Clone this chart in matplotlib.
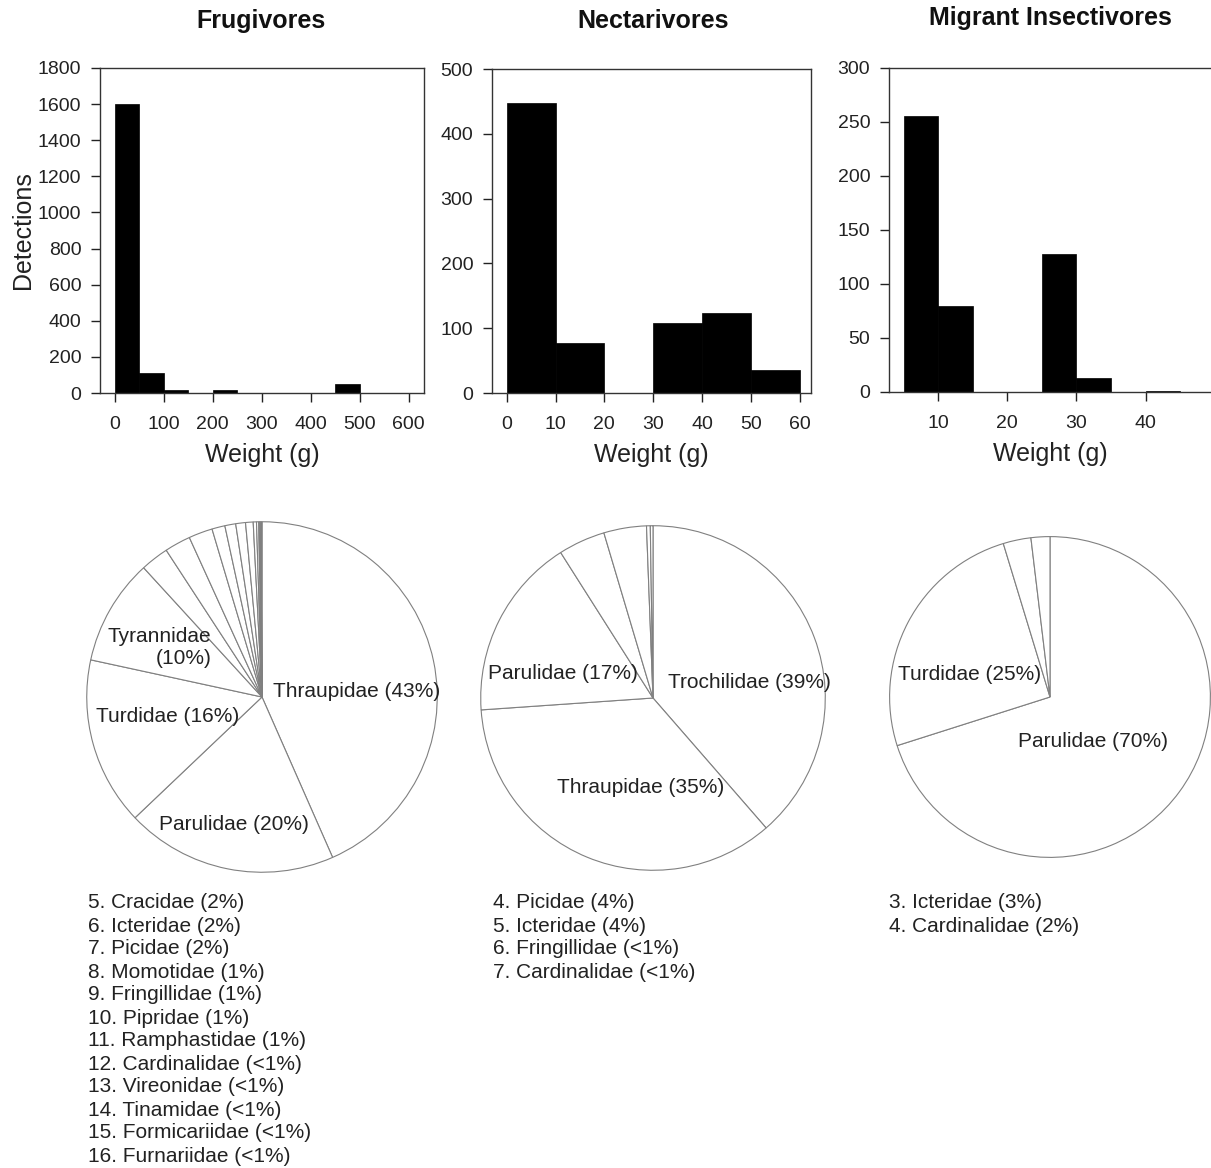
import numpy as np
import matplotlib
matplotlib.use("Agg")
import matplotlib.pyplot as plt

plt.rcParams["font.family"] = ["Liberation Sans", "DejaVu Sans"]

# ---- histogram data (detections per weight bin) ----
frug_edges = [0, 50, 100, 150, 200, 250, 300, 350, 400, 450, 500, 550, 600]
frug_counts = [1600, 110, 15, 0, 18, 0, 0, 0, 0, 52, 0, 0]

nect_edges = [0, 10, 20, 30, 40, 50, 60]
nect_counts = [448, 77, 0, 108, 123, 35]

migr_edges = [5, 10, 15, 20, 25, 30, 35, 40, 45]
migr_counts = [256, 80, 0, 0, 128, 13, 0, 1]

# ---- pie data (share of detections, %) ----
frug_families = ["Thraupidae", "Parulidae", "Turdidae", "Tyrannidae", "Cracidae",
                 "Icteridae", "Picidae", "Momotidae", "Fringillidae", "Pipridae",
                 "Ramphastidae", "Cardinalidae", "Vireonidae", "Tinamidae",
                 "Formicariidae", "Furnariidae"]
frug_share = [43.4, 19.5, 15.5, 9.8, 2.6, 2.4, 2.2, 1.2, 1.0, 0.9, 0.7,
              0.3, 0.2, 0.1, 0.1, 0.1]
frug_pct = ["43%", "20%", "16%", "10%", "2%", "2%", "2%", "1%", "1%", "1%", "1%",
            "<1%", "<1%", "<1%", "<1%", "<1%"]

nect_families = ["Trochilidae", "Thraupidae", "Parulidae", "Picidae", "Icteridae",
                 "Fringillidae", "Cardinalidae"]
nect_share = [38.6, 35.3, 17.1, 4.4, 4.0, 0.35, 0.25]
nect_pct = ["39%", "35%", "17%", "4%", "4%", "<1%", "<1%"]

migr_families = ["Parulidae", "Turdidae", "Icteridae", "Cardinalidae"]
migr_share = [70.1, 25.2, 2.8, 1.9]
migr_pct = ["70%", "25%", "3%", "2%"]

W, H = 1211, 1168
fig = plt.figure(figsize=(W / 100, H / 100), dpi=100)
fig.patch.set_facecolor("white")


def box(l, t, r, b):
    return [l / W, 1 - b / H, (r - l) / W, (b - t) / H]


def hist_panel(rect, edges, counts, ylim, yticks, xlim, xticks, ylabel=None):
    ax = fig.add_axes(box(*rect))
    widths = np.diff(edges)
    ax.bar(edges[:-1], counts, width=widths, align="edge", color="black",
           edgecolor="black", linewidth=0.5)
    ax.set_xlim(*xlim)
    ax.set_ylim(*ylim)
    ax.set_xticks(xticks)
    ax.set_yticks(yticks)
    ax.tick_params(axis="both", direction="out", length=6.5, width=1.0,
                   labelsize=14, colors="#222222")
    ax.tick_params(axis="x", pad=10)
    ax.tick_params(axis="y", pad=7)
    for s in ax.spines.values():
        s.set_linewidth(1.0)
        s.set_color("#333333")
    ax.set_xlabel("Weight (g)", fontsize=18, color="#222222", labelpad=7)
    if ylabel:
        ax.set_ylabel(ylabel, fontsize=18, color="#222222", labelpad=2)
    return ax


hist_panel((100, 68, 424, 393), frug_edges, frug_counts, (0, 1800),
           range(0, 1801, 200), (-30, 631), range(0, 601, 100), "Detections")
hist_panel((492, 69, 811, 393), nect_edges, nect_counts, (0, 500),
           range(0, 501, 100), (-3, 62.3), range(0, 61, 10))
hist_panel((889, 68, 1212, 392), migr_edges, migr_counts, (0, 300),
           range(0, 301, 50), (2.9, 49.6), [10, 20, 30, 40])

fig.text(261 / W, 1 - 21 / H, "Frugivores", fontsize=18, fontweight="bold",
         ha="center", va="center", color="#111111")
fig.text(653 / W, 1 - 21 / H, "Nectarivores", fontsize=18, fontweight="bold",
         ha="center", va="center", color="#111111")
fig.text(1050 / W, 1 - 18 / H, "Migrant Insectivores", fontsize=18,
         fontweight="bold", ha="center", va="center", color="#111111")


def pie_panel(cx, cy, r, shares, labels, label_pos, families, pct, n_on_pie,
              list_x, list_y):
    ax = fig.add_axes(box(cx - r, cy - r, cx + r, cy + r))
    ax.pie(shares, startangle=90, counterclock=False, radius=1,
           colors=["white"] * len(shares),
           wedgeprops=dict(edgecolor="#808080", linewidth=0.8))
    ax.set_xlim(-1.01, 1.01)
    ax.set_ylim(-1.01, 1.01)
    ax.axis("off")
    for text, (x, y, ha) in zip(labels, label_pos):
        ax.text(x, y, text, fontsize=15, ha=ha, va="center",
                multialignment="right", color="#222222")
    for i in range(n_on_pie, len(families)):
        fig.text(list_x / W, 1 - (list_y + (i - n_on_pie) * 23) / H,
                 f"{i + 1}. {families[i]} ({pct[i]})", fontsize=15,
                 ha="left", va="center", color="#222222")


pie_panel(262, 697, 177, frug_share,
          ["Thraupidae (43%)", "Parulidae (20%)", "Turdidae (16%)",
           "Tyrannidae\n(10%)"],
          [(0.54, 0.03, "center"), (-0.16, -0.73, "center"),
           (-0.54, -0.11, "center"), (-0.29, 0.28, "right")],
          frug_families, frug_pct, 4, 88, 903)

pie_panel(653, 698, 174, nect_share,
          ["Trochilidae (39%)", "Thraupidae (35%)", "Parulidae (17%)"],
          [(0.56, 0.09, "center"), (-0.07, -0.52, "center"),
           (-0.52, 0.14, "center")],
          nect_families, nect_pct, 3, 493, 903)

pie_panel(1050, 697, 162, migr_share,
          ["Parulidae (70%)", "Turdidae (25%)"],
          [(0.27, -0.28, "center"), (-0.5, 0.14, "center")],
          migr_families, migr_pct, 2, 889, 903)

fig.savefig("out.png", dpi=100)
plt.close(fig)
